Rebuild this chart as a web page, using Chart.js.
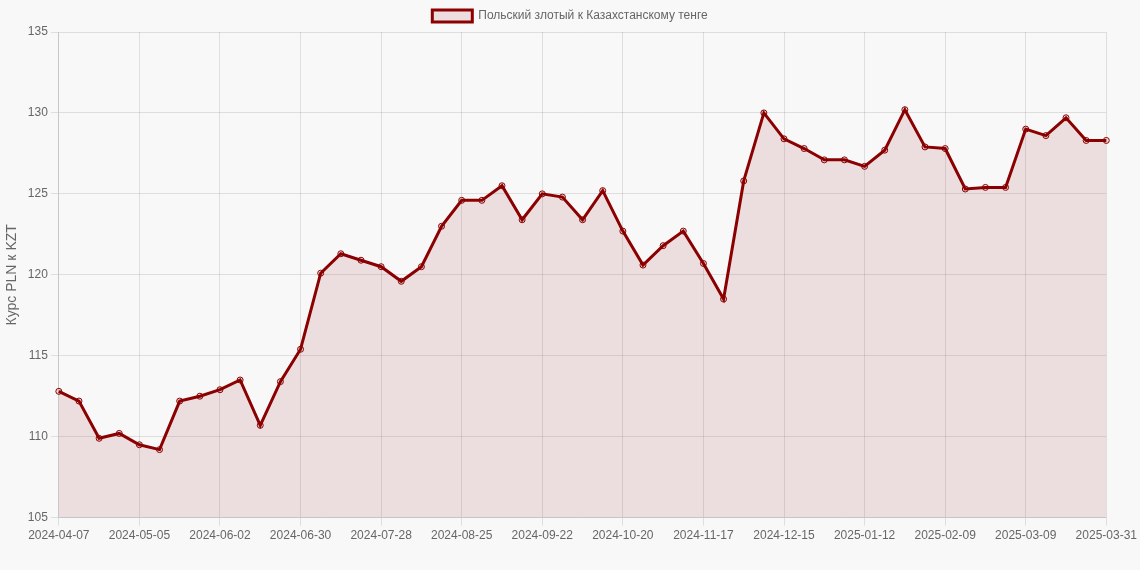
<!DOCTYPE html>
<html>
<head>
<meta charset="utf-8">
<script src="https://cdn.jsdelivr.net/npm/chart.js@4"></script>
<style>
  html, body { margin: 0; padding: 0; background: #f8f8f8; }
  #wrap { width: 1140px; height: 570px; }
</style>
</head>
<body>
<div id="wrap"><canvas id="chart"></canvas></div>
<script>
// Weekly dates
const dates = [
    '2024-04-07','2024-04-14','2024-04-21','2024-04-28','2024-05-05','2024-05-12','2024-05-19','2024-05-26',
    '2024-06-02','2024-06-09','2024-06-16','2024-06-23','2024-06-30','2024-07-07','2024-07-14','2024-07-21',
    '2024-07-28','2024-08-04','2024-08-11','2024-08-18','2024-08-25','2024-09-01','2024-09-08','2024-09-15',
    '2024-09-22','2024-09-29','2024-10-06','2024-10-13','2024-10-20','2024-10-27','2024-11-03','2024-11-10',
    '2024-11-17','2024-11-24','2024-12-01','2024-12-08','2024-12-15','2024-12-22','2024-12-29','2025-01-05',
    '2025-01-12','2025-01-19','2025-01-26','2025-02-02','2025-02-09','2025-02-16','2025-02-23','2025-03-02',
    '2025-03-09','2025-03-16','2025-03-23','2025-03-30','2025-03-31'
];

// PLN -> KZT rate
const rates = [
    112.8, 112.2, 109.9, 110.2, 109.5, 109.2, 112.2, 112.5,
    112.9, 113.5, 110.7, 113.4, 115.4, 120.1, 121.3, 120.9,
    120.5, 119.6, 120.5, 123.0, 124.6, 124.6, 125.5, 123.4,
    125.0, 124.8, 123.4, 125.2, 122.7, 120.6, 121.8, 122.7,
    120.7, 118.5, 125.8, 130.0, 128.4, 127.8, 127.1, 127.1,
    126.7, 127.7, 130.2, 127.9, 127.8, 125.3, 125.4, 125.4,
    129.0, 128.6, 129.7, 128.3, 128.3
];

const ctx = document.getElementById('chart').getContext('2d');
new Chart(ctx, {
    type: 'line',
    data: {
        labels: dates,
        datasets: [{
            label: 'Польский злотый к Казахстанскому тенге',
            data: rates,
            borderColor: '#8b0000',
            backgroundColor: 'rgba(139, 0, 0, 0.1)',
            borderWidth: 3,
            fill: true,
            tension: 0,
            pointRadius: 3,
            pointBorderWidth: 1,
            pointBackgroundColor: 'rgba(139, 0, 0, 0.1)',
            pointBorderColor: '#8b0000'
        }]
    },
    options: {
        responsive: true,
        maintainAspectRatio: false,
        animation: false,
        layout: { padding: { bottom: 24 } },
        plugins: {
            legend: {
                labels: { color: '#666', font: { family: 'Liberation Sans', size: 12 } }
            }
        },
        scales: {
            x: {
                grid: {
                    color: c => c.index % 4 === 0 ? 'rgba(0,0,0,0.1)' : 'rgba(0,0,0,0)'
                },
                ticks: {
                    autoSkip: false,
                    maxRotation: 0,
                    color: '#666',
                    font: { family: 'Liberation Sans', size: 12 },
                    callback: function (val, i) {
                        return i % 4 === 0 ? dates[i] : '';
                    }
                }
            },
            y: {
                min: 105,
                max: 135,
                grid: { color: 'rgba(0,0,0,0.1)' },
                ticks: { stepSize: 5, color: '#666', font: { family: 'Liberation Sans', size: 12 } },
                title: {
                    display: true,
                    text: 'Курс PLN к KZT',
                    color: '#666',
                    font: { family: 'Liberation Sans', size: 14 }
                }
            }
        }
    }
});
</script>
</body>
</html>
